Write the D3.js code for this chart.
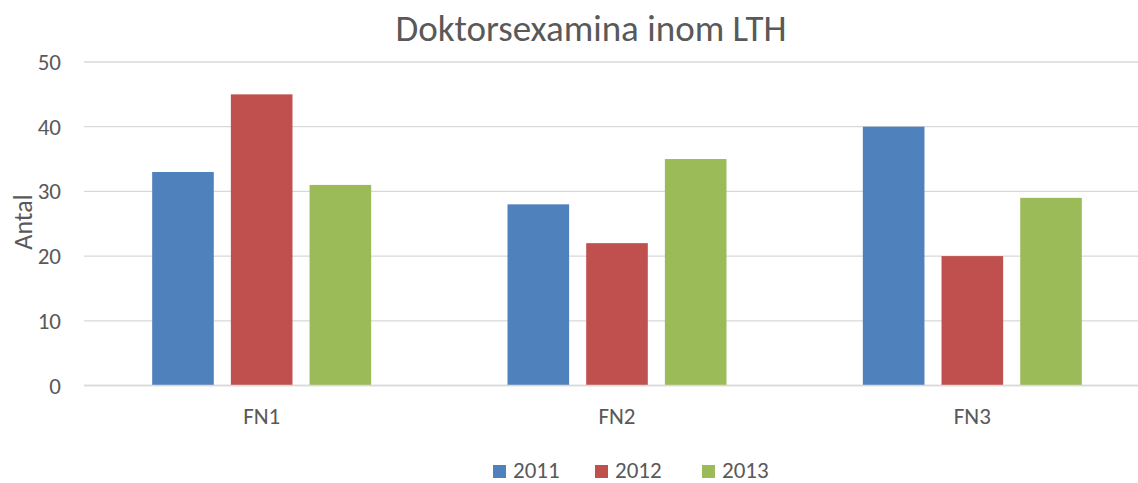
<!DOCTYPE html>
<html>
<head>
<meta charset="utf-8">
<script src="https://cdn.jsdelivr.net/npm/d3@7"></script>
<style>
  html, body { margin: 0; padding: 0; background: #fff; }
  svg { display: block; }
  text { font-family: Carlito, Calibri, Lato, sans-serif; fill: #595959; }
</style>
</head>
<body>
<svg id="chart" width="1138" height="483"></svg>
<script>
const title = "Doktorsexamina inom LTH";
const yLabel = "Antal";
const categories = ["FN1", "FN2", "FN3"];
const seriesNames = ["2011", "2012", "2013"];
const values2011 = [33, 28, 40];
const values2012 = [45, 22, 20];
const values2013 = [31, 35, 29];
const yTicks = [0, 10, 20, 30, 40, 50];
const colors = ["#4F81BD", "#C0504D", "#9BBB59"];

const seriesValues = [values2011, values2012, values2013];
const data = categories.map((c, i) => ({
  cat: c,
  vals: seriesNames.map((s, j) => ({ key: s, value: seriesValues[j][i], color: colors[j] }))
}));

const svg = d3.select("#chart");
const plot = { left: 84, right: 1150, top: 62, bottom: 385.5 };

const y = d3.scaleLinear().domain([0, 50]).range([plot.bottom, plot.top]);
const x0 = d3.scaleBand().domain(categories).range([plot.left, plot.right]).padding(0);
const groupW = 219;
const x1 = d3.scaleBand().domain(seriesNames).range([0, groupW]).paddingInner(0.217).paddingOuter(0);
const groupOffset = (x0.bandwidth() - groupW) / 2;

// gridlines
svg.append("g").selectAll("line").data(yTicks).join("line")
  .attr("x1", plot.left).attr("x2", plot.right)
  .attr("y1", d => y(d)).attr("y2", d => y(d))
  .attr("stroke", "#D9D9D9").attr("stroke-width", 1.3);

// y tick labels
svg.append("g").selectAll("text").data(yTicks).join("text")
  .attr("x", 61).attr("y", d => y(d))
  .attr("text-anchor", "end").attr("dominant-baseline", "central")
  .style("font-size", "23px")
  .text(d => d);

// bars
const groups = svg.append("g").selectAll("g").data(data).join("g")
  .attr("transform", d => `translate(${x0(d.cat) + groupOffset},0)`);
groups.selectAll("rect").data(d => d.vals).join("rect")
  .attr("x", d => x1(d.key))
  .attr("width", x1.bandwidth())
  .attr("y", d => y(d.value))
  .attr("height", d => y(0) - y(d.value))
  .attr("fill", d => d.color);

// baseline on top
svg.append("line")
  .attr("x1", plot.left).attr("x2", plot.right)
  .attr("y1", y(0)).attr("y2", y(0))
  .attr("stroke", "#D9D9D9").attr("stroke-width", 1.3);

// category labels
svg.append("g").selectAll("text").data(categories).join("text")
  .attr("x", d => x0(d) + x0.bandwidth() / 2)
  .attr("y", 424)
  .attr("text-anchor", "middle")
  .style("font-size", "23px")
  .text(d => d);

// title
svg.append("text")
  .attr("x", 591).attr("y", 41)
  .attr("text-anchor", "middle")
  .style("font-size", "37px")
  .text(title);

// y axis label
svg.append("text")
  .attr("transform", "translate(32,222) rotate(-90)")
  .attr("text-anchor", "middle")
  .style("font-size", "26px")
  .text(yLabel);

// legend
const legendX = [493, 595, 702];
const lg = svg.append("g").selectAll("g").data(seriesNames).join("g")
  .attr("transform", (d, i) => `translate(${legendX[i]},0)`);
lg.append("rect").attr("x", 0).attr("y", 465).attr("width", 13).attr("height", 13)
  .attr("fill", (d, i) => colors[i]);
lg.append("text").attr("x", 20).attr("y", 478)
  .style("font-size", "23px").text(d => d);
</script>
</body>
</html>
